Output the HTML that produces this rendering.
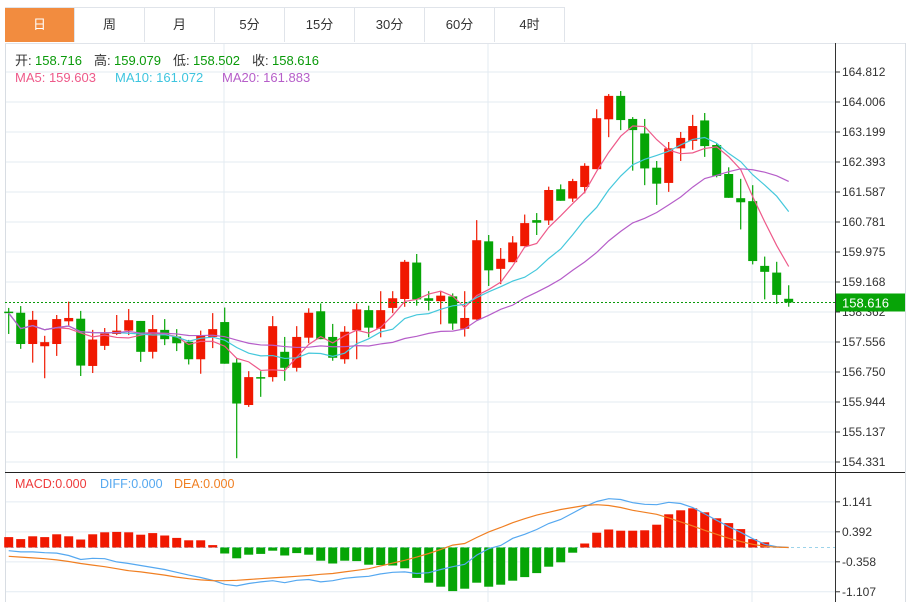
<!DOCTYPE html>
<html><head><meta charset="utf-8"><style>
body{margin:0;background:#fff;font-family:"Liberation Sans","Noto Sans CJK SC",sans-serif;}
#wrap{position:relative;width:908px;height:602px;overflow:hidden;background:#fff}
.tab{position:absolute;top:8px;height:34px;width:69px;border-right:1px solid #e0e4ea;font-size:13px;line-height:34px;text-align:center;color:#333;cursor:pointer}
</style></head><body>
<div id="wrap">
<div style="position:absolute;left:5px;top:7px;width:560px;height:35px;border-top:1px solid #e0e4ea;border-bottom:1px solid #e0e4ea"></div>
<div class="tab" style="left:5px;background:#f28c3f;color:#fff">日</div>
<div class="tab" style="left:75px">周</div>
<div class="tab" style="left:145px">月</div>
<div class="tab" style="left:215px">5分</div>
<div class="tab" style="left:285px">15分</div>
<div class="tab" style="left:355px">30分</div>
<div class="tab" style="left:425px">60分</div>
<div class="tab" style="left:495px">4时</div>
<svg id="svg" width="908" height="602" style="position:absolute;left:0;top:0"></svg>
</div>
<script>
const opens=[158.37,158.34,157.50,157.44,157.50,158.11,158.18,156.91,157.45,157.77,157.86,158.12,157.29,157.88,157.70,157.56,157.09,157.69,158.09,157.00,155.86,156.61,156.61,157.29,156.86,157.67,158.38,157.69,157.09,157.87,158.41,157.91,158.47,158.71,159.69,158.73,158.65,158.78,157.91,158.16,160.26,159.52,159.70,160.13,160.83,160.82,161.66,161.41,161.72,162.20,163.54,164.17,163.55,163.16,162.24,161.83,162.76,162.96,163.51,162.85,162.07,161.42,161.34,159.60,159.42,158.716];
const closes=[158.33,157.50,158.15,157.55,158.17,158.20,156.92,157.62,157.78,157.86,158.14,157.29,157.90,157.63,157.52,157.09,157.72,157.90,156.97,155.90,156.61,156.57,157.98,156.86,157.69,158.34,157.63,157.13,157.83,158.43,157.94,158.41,158.73,159.71,158.70,158.66,158.80,158.05,158.20,160.29,159.48,159.79,160.23,160.75,160.76,161.64,161.35,161.88,162.29,163.57,164.17,163.52,163.25,162.22,161.81,162.76,163.04,163.36,162.82,162.02,161.43,161.31,159.73,159.44,158.82,158.616];
const highs=[158.47,158.52,158.39,157.72,158.28,158.64,158.39,157.88,157.93,158.28,158.44,158.12,158.28,158.17,157.90,157.61,157.86,158.33,158.48,157.12,156.77,156.77,158.25,157.69,157.98,158.46,158.59,158.04,157.98,158.59,158.53,158.92,158.92,159.76,159.92,158.92,158.92,158.86,158.92,160.83,160.43,160.08,160.40,160.98,161.02,161.73,161.79,161.94,162.36,163.81,164.22,164.30,163.60,163.55,162.42,162.93,163.20,163.66,163.71,162.90,162.25,161.94,161.77,159.85,159.71,159.079];
const lows=[157.77,157.37,157.00,156.58,157.18,158.00,156.64,156.72,157.34,157.74,157.74,157.02,157.11,157.47,157.31,156.95,156.70,157.39,156.97,154.43,155.81,156.08,156.49,156.51,156.76,157.52,157.63,157.05,156.97,157.09,157.68,157.68,158.33,158.50,158.53,158.40,158.03,157.88,157.70,158.15,159.06,159.11,159.70,160.13,160.43,160.70,161.35,161.32,161.55,162.20,163.06,163.25,162.16,161.77,161.24,161.59,162.42,162.72,162.53,161.98,161.43,160.58,159.64,158.70,158.58,158.502];
const priceTicks=["164.812","164.006","163.199","162.393","161.587","160.781","159.975","159.168","158.362","157.556","156.750","155.944","155.137","154.331"];
const macdBars=[0.26,0.21,0.28,0.26,0.33,0.28,0.20,0.33,0.38,0.39,0.38,0.32,0.36,0.30,0.24,0.18,0.18,0.06,-0.15,-0.27,-0.18,-0.16,-0.08,-0.20,-0.14,-0.18,-0.33,-0.40,-0.33,-0.34,-0.43,-0.44,-0.45,-0.52,-0.76,-0.88,-0.98,-1.09,-1.03,-0.88,-0.98,-0.93,-0.83,-0.74,-0.64,-0.48,-0.37,-0.13,0.10,0.37,0.45,0.42,0.42,0.43,0.57,0.83,0.93,0.98,0.88,0.73,0.61,0.46,0.21,0.13,0.02,0];
const diffVals=[-0.08,-0.11,-0.11,-0.13,-0.14,-0.20,-0.30,-0.27,-0.28,-0.36,-0.40,-0.45,-0.50,-0.55,-0.62,-0.69,-0.75,-0.82,-0.92,-0.96,-0.90,-0.86,-0.83,-0.88,-0.82,-0.80,-0.86,-0.83,-0.77,-0.74,-0.72,-0.66,-0.62,-0.61,-0.65,-0.63,-0.55,-0.48,-0.42,-0.19,-0.03,0.05,0.23,0.33,0.45,0.60,0.70,0.86,1.02,1.15,1.22,1.20,1.12,1.08,1.07,1.13,1.10,1.00,0.84,0.68,0.52,0.38,0.22,0.08,0.02,0];
const deaVals=[-0.22,-0.24,-0.26,-0.28,-0.31,-0.35,-0.40,-0.44,-0.48,-0.53,-0.58,-0.61,-0.65,-0.69,-0.74,-0.78,-0.81,-0.83,-0.83,-0.82,-0.80,-0.78,-0.76,-0.74,-0.72,-0.70,-0.67,-0.65,-0.61,-0.57,-0.53,-0.46,-0.39,-0.32,-0.24,-0.15,-0.05,0.06,0.10,0.25,0.39,0.50,0.62,0.72,0.81,0.88,0.95,1.00,1.05,1.07,1.05,1.00,0.93,0.88,0.83,0.74,0.64,0.54,0.43,0.33,0.23,0.15,0.08,0.03,0.01,0];
const macdTicks=["1.141","0.392","-0.358","-1.107"];
const macdTickVals=[1.141,0.392,-0.358,-1.107];

const NS="http://www.w3.org/2000/svg",svg=document.getElementById('svg');
const X=i=>8.7+12*i;
const Y=p=>72+(164.812-p)*37.2;
const MY=v=>547.5-v*40;
function el(t,a,parent){const e=document.createElementNS(NS,t);for(const k in a)e.setAttribute(k,a[k]);(parent||svg).appendChild(e);return e;}
priceTicks.forEach((t,k)=>{const y=72+30*k;
 const g=el('line',{x1:5,x2:835,y1:y,y2:y,stroke:'#e3ebf2'});
 
 el('line',{x1:835,x2:840,y1:y,y2:y,stroke:'#333'});
 const tx=el('text',{x:842,y:y+4,'font-size':12,fill:'#333'});tx.textContent=t;
 });
macdTickVals.forEach((v,k)=>{const y=MY(v);
 const g=el('line',{x1:5,x2:835,y1:y,y2:y,stroke:'#e3ebf2'});
 
 el('line',{x1:835,x2:840,y1:y,y2:y,stroke:'#333'});
 const tx=el('text',{x:842,y:y+4,'font-size':12,fill:'#333'});tx.textContent=macdTicks[k];
 });
[224,488,752].forEach(x=>{el('line',{x1:x,x2:x,y1:43,y2:602,stroke:'#e3ebf2'});});
el('line',{x1:5.5,x2:5.5,y1:43,y2:602,stroke:'#d8dde3'});
el('line',{x1:5,x2:905,y1:43.5,y2:43.5,stroke:'#e0e4ea'});
el('line',{x1:835.5,x2:835.5,y1:43,y2:602,stroke:'#333'});
el('line',{x1:905.5,x2:905.5,y1:43,y2:602,stroke:'#d8dde3'});
el('line',{x1:5,x2:905,y1:472.5,y2:472.5,stroke:'#222'});
const RED='#f01800',GREEN='#06a506';
for(let i=0;i<closes.length;i++){const up=closes[i]>=opens[i],c=up?RED:GREEN,x=X(i);
 const w=el('line',{x1:x,x2:x,y1:Y(highs[i]),y2:Y(lows[i]),stroke:c,'stroke-width':1.2});
 
 const t=Y(Math.max(opens[i],closes[i])),b=Y(Math.min(opens[i],closes[i]));
 const r=el('rect',{x:x-4.5,y:t,width:9,height:Math.max(1.5,b-t),fill:c});
 }
function ma(n){return closes.map((_,i)=>{const s=Math.max(0,i-n+1);let a=0;for(let j=s;j<=i;j++)a+=closes[j];return a/(i-s+1);});}
[[5,'#ee5a8a','ma5-line'],[10,'#45c8dc','ma10-line'],[20,'#b65ec9','ma20-line']].forEach(([n,c,name])=>{
 const v=ma(n);const p=el('polyline',{points:v.map((m,i)=>X(i)+','+Y(m)).join(' '),fill:'none',stroke:c,'stroke-width':1.2});
 });
const ly=Y(closes[closes.length-1]);
const dl=el('line',{x1:5,x2:835,y1:ly,y2:ly,stroke:'#0a9a0a','stroke-dasharray':'2,2'});

const lb=el('rect',{x:836,y:ly-9,width:69,height:18,fill:'#07a407'});

const lt=el('text',{x:842,y:ly+5,'font-size':13,fill:'#fff'});lt.textContent=closes[closes.length-1].toFixed(3);

el('line',{x1:5,x2:835,y1:MY(0),y2:MY(0),stroke:'#9cd3ea','stroke-dasharray':'3,3'});
macdBars.forEach((v,i)=>{const y0=MY(0),y1=MY(v);
 const r=el('rect',{x:X(i)-4.5,y:Math.min(y0,y1),width:9,height:Math.abs(y1-y0),fill:v>=0?RED:GREEN});
 });
[[diffVals,'#55a8f0','diff-line'],[deaVals,'#f07f22','dea-line']].forEach(([v,c,name])=>{
 const p=el('polyline',{points:v.map((m,i)=>X(i)+','+MY(m)).join(' '),fill:'none',stroke:c,'stroke-width':1.2});
 });
function txt(x,y,s,c,name,fs){const t=el('text',{x:x,y:y,'font-size':fs||13,fill:c});t.textContent=s;return t;}
txt(15,65,'开:','#333','open-label');txt(35,65,'158.716','#0a9a0a','open-value');
txt(94,65,'高:','#333','high-label');txt(114,65,'159.079','#0a9a0a','high-value');
txt(173,65,'低:','#333','low-label');txt(193,65,'158.502','#0a9a0a','low-value');
txt(252,65,'收:','#333','close-label');txt(272,65,'158.616','#0a9a0a','close-value');
txt(15,82,'MA5: 159.603','#ee5a8a','ma5-legend');
txt(115,82,'MA10: 161.072','#3ec5df','ma10-legend');
txt(222,82,'MA20: 161.883','#b65ec9','ma20-legend');
txt(15,488,'MACD:0.000','#ee3b3b','macd-legend',12.5);
txt(100,488,'DIFF:0.000','#55a8f0','diff-legend',12.5);
txt(174,488,'DEA:0.000','#f07f22','dea-legend',12.5);
</script>
</body></html>
